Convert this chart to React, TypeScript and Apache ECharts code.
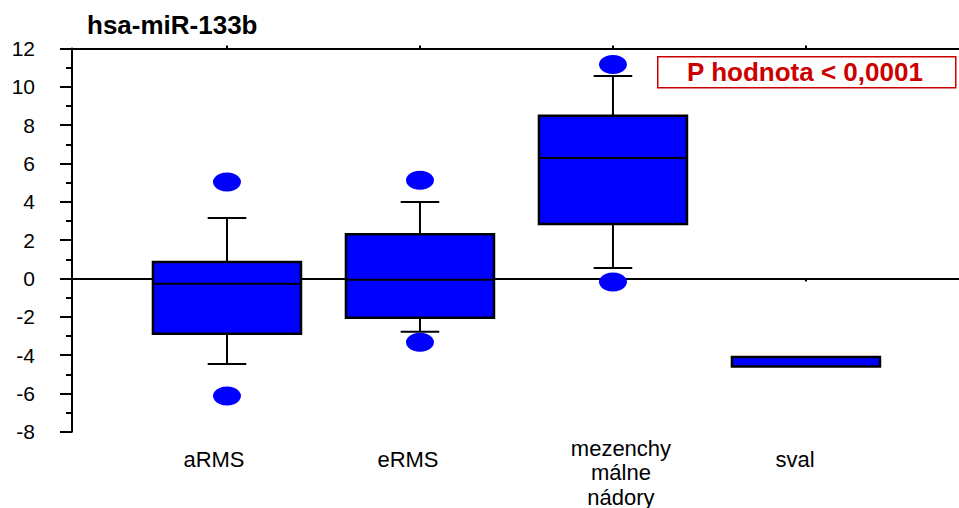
import React, { useEffect, useRef } from "react";
import * as echarts from "echarts";

const title = "hsa-miR-133b";
const pValueText = "P hodnota < 0,0001";
const categories = ["aRMS", "eRMS", "mezenchy\nmálne\nnádory", "sval"];
const whiskerLow = [-4.46, -2.78, 0.54, -4.6];
const quartile1 = [-2.89, -2.05, 2.84, -4.6];
const medians: (number | null)[] = [-0.28, -0.07, 6.28, null];
const quartile3 = [0.86, 2.31, 8.49, -4.1];
const whiskerHigh = [3.16, 3.99, 10.57, -4.1];
// [category index, value]
const outliers: [number, number][] = [
  [0, 5.03],
  [0, -6.13],
  [1, 5.12],
  [1, -3.33],
  [2, 11.16],
  [2, -0.18],
];
const yTicks = { min: -8, max: 12, interval: 2 };

const FONT = "'Liberation Sans', Arial, sans-serif";
const BLUE = "#0000FF";
const RED = "#CC0000";
const BOX_W = 0.767; // in category units
const CAP_W = 0.2;

export default function App() {
  const ref = useRef<HTMLDivElement>(null);
  useEffect(() => {
    if (!ref.current) return;
    const chart = echarts.init(ref.current, undefined, { renderer: "svg" });
    const positions = categories.map((_, i) => i + 1);
    const boxData = categories.map((_, i) => [
      i + 1,
      whiskerLow[i],
      quartile1[i],
      medians[i] == null ? NaN : medians[i],
      quartile3[i],
      whiskerHigh[i],
    ]);
    const base = { fontSize: 22, fontFamily: FONT, color: "#000", lineHeight: 24.5 };
    const richStyles: Record<string, any> = {
      c0: { ...base, padding: [22, 26, 0, 0] },
      c1: { ...base, padding: [22, 24, 0, 0] },
      c2: { ...base, padding: [0, 0, 0, 16] },
      c3: { ...base, padding: [22, 22, 0, 0] },
    };
    const xCommon = {
      type: "value" as const,
      min: 0.197,
      max: 4.793,
      splitLine: { show: false },
      axisLine: { show: true, lineStyle: { color: "#000", width: 2 } },
      axisTick: {
        show: true,
        length: 3,
        inside: false,
        customValues: positions,
        lineStyle: { color: "#000", width: 2 },
      },
    };
    chart.setOption({
      animation: false,
      title: {
        text: title,
        left: 82,
        top: 7,
        textStyle: { fontSize: 26, fontWeight: "bold", color: "#000", fontFamily: FONT },
      },
      grid: { left: 72, right: 0, top: 48.5, bottom: 75.5, containLabel: false },
      xAxis: [
        {
          ...xCommon,
          position: "bottom",
          axisLabel: {
            show: true,
            customValues: positions,
            margin: 4,
            verticalAlign: "top",
            formatter: (v: number) => {
              const i = Math.round(v) - 1;
              return `{c${i}|${categories[i]}}`;
            },
            rich: richStyles,
          },
        },
        {
          ...xCommon,
          position: "top",
          axisLabel: { show: false },
        },
      ],
      yAxis: {
        type: "value",
        min: yTicks.min,
        max: yTicks.max,
        interval: yTicks.interval,
        splitLine: { show: false },
        axisLine: { show: true, lineStyle: { color: "#000", width: 2 } },
        axisTick: { show: true, length: 12, inside: false, lineStyle: { color: "#000", width: 2 } },
        minorTick: { show: true, splitNumber: 2, length: 6, lineStyle: { color: "#000", width: 2 } },
        minorSplitLine: { show: false },
        axisLabel: { fontSize: 21, fontFamily: FONT, color: "#000", margin: 37 },
      },
      series: [
        {
          type: "custom",
          xAxisIndex: 0,
          data: boxData,
          renderItem: (params: any, api: any) => {
            const x = api.value(0);
            const lo = api.coord([x, api.value(1)]);
            const q1 = api.coord([x, api.value(2)]);
            const med = api.value(3);
            const q3 = api.coord([x, api.value(4)]);
            const hi = api.coord([x, api.value(5)]);
            const halfW = api.size([BOX_W, 0])[0] / 2;
            const halfC = api.size([CAP_W, 0])[0] / 2;
            const cx = q1[0];
            const lineStyle = { stroke: "#000", lineWidth: 2 };
            const children: any[] = [];
            if (Math.abs(lo[1] - q1[1]) > 0.5) {
              children.push({ type: "line", shape: { x1: cx, y1: q1[1], x2: cx, y2: lo[1] }, style: lineStyle });
              children.push({ type: "line", shape: { x1: cx - halfC, y1: lo[1], x2: cx + halfC, y2: lo[1] }, style: lineStyle });
            }
            if (Math.abs(hi[1] - q3[1]) > 0.5) {
              children.push({ type: "line", shape: { x1: cx, y1: q3[1], x2: cx, y2: hi[1] }, style: lineStyle });
              children.push({ type: "line", shape: { x1: cx - halfC, y1: hi[1], x2: cx + halfC, y2: hi[1] }, style: lineStyle });
            }
            children.push({
              type: "rect",
              shape: { x: cx - halfW, y: q3[1], width: halfW * 2, height: q1[1] - q3[1] },
              style: { fill: BLUE, stroke: "#000", lineWidth: 2.5 },
            });
            if (!isNaN(med)) {
              const m = api.coord([x, med]);
              children.push({ type: "line", shape: { x1: cx - halfW, y1: m[1], x2: cx + halfW, y2: m[1] }, style: lineStyle });
            }
            return { type: "group", children };
          },
          z: 3,
        },
        {
          type: "scatter",
          xAxisIndex: 0,
          data: outliers.map(([i, v]) => [i + 1, v]),
          symbol: "circle",
          symbolSize: [28, 19],
          itemStyle: { color: BLUE, opacity: 1 },
          z: 4,
          markLine: {
            silent: true,
            symbol: "none",
            label: { show: false },
            lineStyle: { color: "#000", width: 2, type: "solid" },
            data: [{ yAxis: 0 }],
            z: 1,
          },
        },
      ],
      graphic: [
        {
          type: "rect",
          left: 657,
          top: 56,
          shape: { width: 298, height: 31 },
          style: { fill: "#fff", stroke: RED, lineWidth: 1.5 },
          z: 10,
        },
        {
          type: "text",
          x: 805,
          y: 71.5,
          style: {
            text: pValueText,
            align: "center",
            verticalAlign: "middle",
            font: `bold 26px ${FONT}`,
            fill: RED,
          },
          z: 11,
        },
      ],
    });
    return () => chart.dispose();
  }, []);
  return <div ref={ref} style={{ position: "absolute", left: 0, top: 0, width: 959, height: 508 }} />;
}
